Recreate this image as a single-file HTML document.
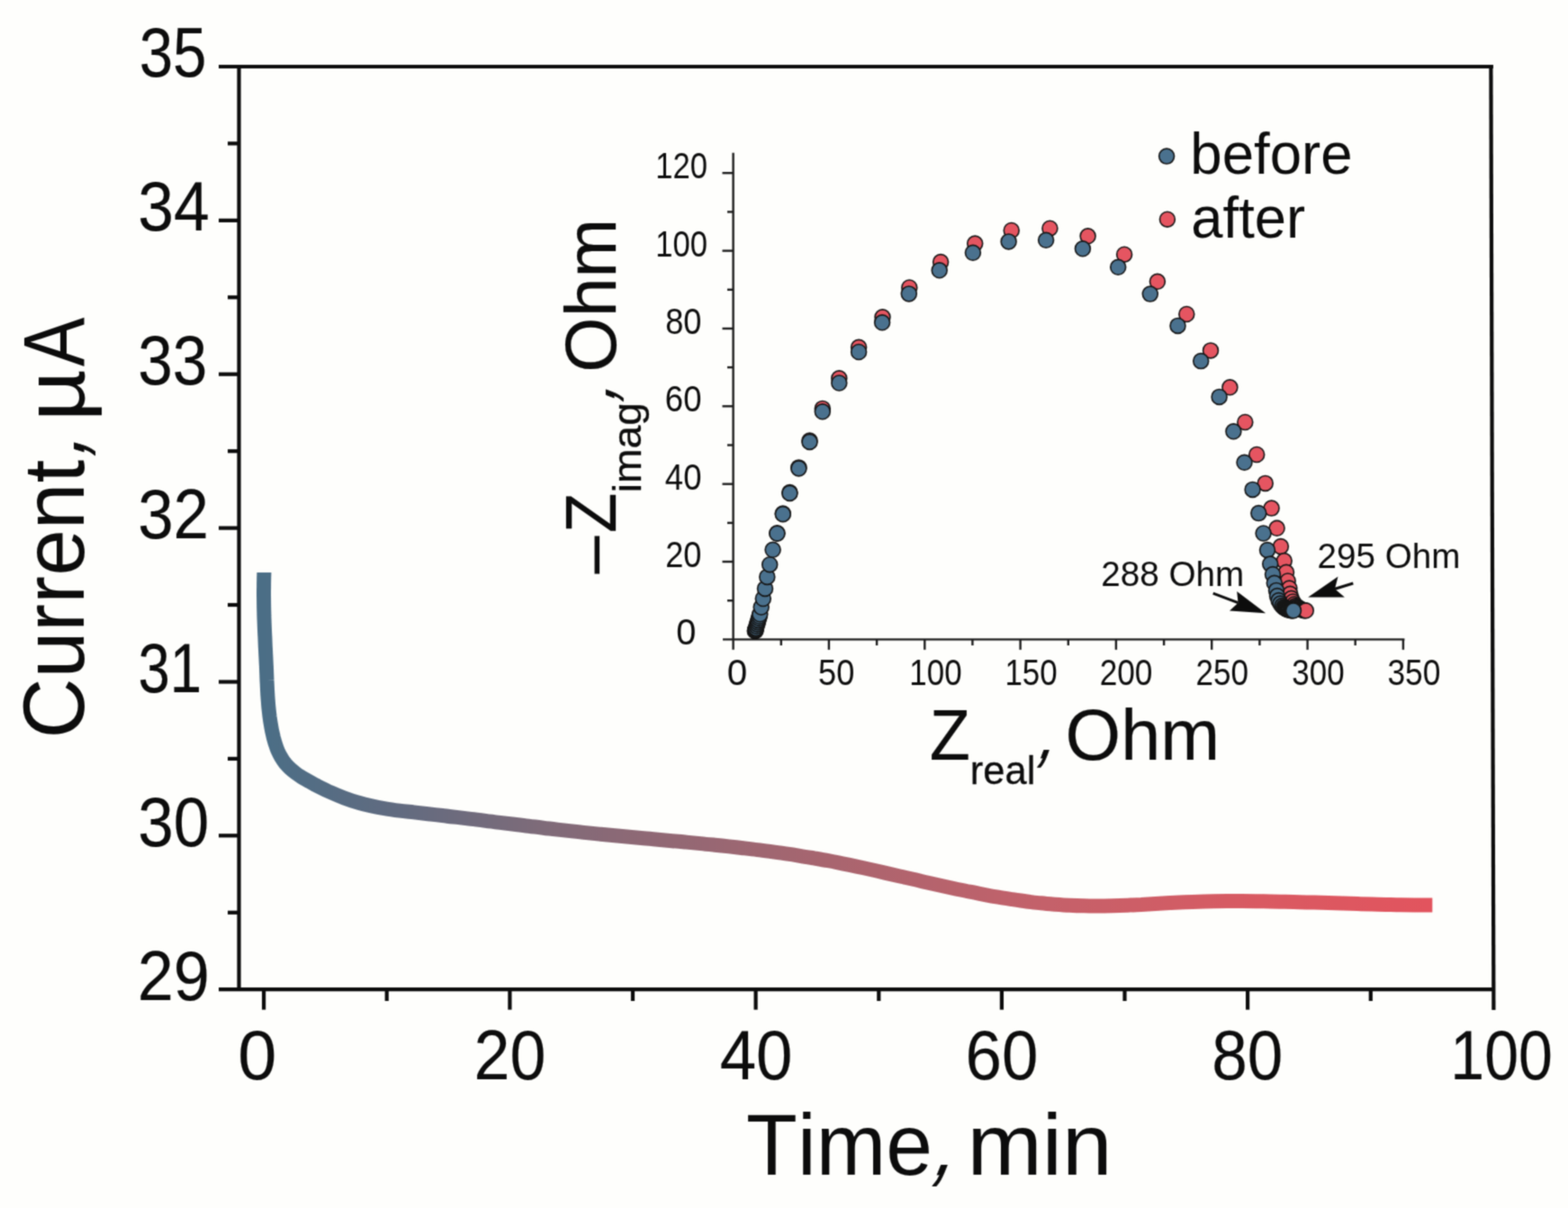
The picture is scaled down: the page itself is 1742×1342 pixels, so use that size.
<!DOCTYPE html>
<html lang="en">
<head>
<meta charset="utf-8">
<title>Current vs time with impedance inset</title>
<style>
html,body{margin:0;padding:0;background:#fefefc;}
body{width:1742px;height:1342px;overflow:hidden;}
svg{display:block;}
text{font-family:"Liberation Sans",sans-serif;font-kerning:none;}
</style>
</head>
<body>
<svg width="1742" height="1342" viewBox="0 0 1742 1342" role="img" aria-label="Current, µA / Time, min / –Zimag, Ohm / Zreal, Ohm">
<desc>Current, µA. Time, min. –Zimag, Ohm. Zreal, Ohm. before. after. 288 Ohm. 295 Ohm.</desc>
<defs>
<linearGradient id="cg" gradientUnits="userSpaceOnUse" x1="293" y1="0" x2="1591" y2="0">
<stop offset="0.0000" stop-color="rgb(75,110,134)"/>
<stop offset="0.1133" stop-color="rgb(97,107,128)"/>
<stop offset="0.2365" stop-color="rgb(126,107,121)"/>
<stop offset="0.2982" stop-color="rgb(138,105,118)"/>
<stop offset="0.4831" stop-color="rgb(168,101,111)"/>
<stop offset="0.6680" stop-color="rgb(196,97,106)"/>
<stop offset="0.8529" stop-color="rgb(217,90,98)"/>
<stop offset="1.0000" stop-color="rgb(226,84,94)"/>
</linearGradient>
<filter id="soft" color-interpolation-filters="sRGB" x="0" y="0" width="1742" height="1342" filterUnits="userSpaceOnUse"><feConvolveMatrix order="3" kernelMatrix="0.0400 0.1200 0.0400 0.1200 0.3600 0.1200 0.0400 0.1200 0.0400" divisor="1" edgeMode="duplicate" preserveAlpha="false"/></filter>
</defs>
<rect width="1742" height="1342" fill="#fefefc"/>
<g filter="url(#soft)">
<g stroke="#0c0c0c" stroke-width="4.2" fill="none" stroke-linecap="butt">
<path d="M243,74.0 H1659.0"/>
<path d="M243,1099.2 H1659.4"/>
<path d="M265.5,74.0 V1099.2"/>
<path d="M1656.4,71.9 L1659.4,1122"/>
<path d="M243,244.9 H265.5"/>
<path d="M243,415.7 H265.5"/>
<path d="M243,586.6 H265.5"/>
<path d="M243,757.5 H265.5"/>
<path d="M243,928.3 H265.5"/>
<path d="M253,159.4 H265.5"/>
<path d="M253,330.3 H265.5"/>
<path d="M253,501.2 H265.5"/>
<path d="M253,672.0 H265.5"/>
<path d="M253,842.9 H265.5"/>
<path d="M253,1013.8 H265.5"/>
<path d="M293.1,1099.2 V1121.7"/>
<path d="M566.4,1099.2 V1121.7"/>
<path d="M839.6,1099.2 V1121.7"/>
<path d="M1112.9,1099.2 V1121.7"/>
<path d="M1386.1,1099.2 V1121.7"/>
<path d="M429.7,1099.2 V1112"/>
<path d="M703.0,1099.2 V1112"/>
<path d="M976.3,1099.2 V1112"/>
<path d="M1249.5,1099.2 V1112"/>
<path d="M1522.8,1099.2 V1112"/>
</g>
<text transform="translate(154.64,85.40) scale(0.8744,1)" font-size="77" fill="#0c0c0c" stroke="#0c0c0c" stroke-width="0.15" stroke-linejoin="round">35</text>
<text transform="translate(153.18,256.27) scale(0.9284,1)" font-size="77" fill="#0c0c0c" stroke="#0c0c0c" stroke-width="0.15" stroke-linejoin="round">34</text>
<text transform="translate(153.26,427.13) scale(0.9000,1)" font-size="77" fill="#0c0c0c" stroke="#0c0c0c" stroke-width="0.15" stroke-linejoin="round">33</text>
<text transform="translate(153.20,598.00) scale(0.9208,1)" font-size="77" fill="#0c0c0c" stroke="#0c0c0c" stroke-width="0.15" stroke-linejoin="round">32</text>
<text transform="translate(153.48,768.87) scale(0.8245,1)" font-size="77" fill="#0c0c0c" stroke="#0c0c0c" stroke-width="0.15" stroke-linejoin="round">31</text>
<text transform="translate(153.19,939.73) scale(0.9234,1)" font-size="77" fill="#0c0c0c" stroke="#0c0c0c" stroke-width="0.15" stroke-linejoin="round">30</text>
<text transform="translate(152.78,1110.60) scale(0.9356,1)" font-size="77" fill="#0c0c0c" stroke="#0c0c0c" stroke-width="0.15" stroke-linejoin="round">29</text>
<text transform="translate(264.28,1198.80) scale(1.0052,1)" font-size="77" fill="#0c0c0c" stroke="#0c0c0c" stroke-width="0.15" stroke-linejoin="round">0</text>
<text transform="translate(526.49,1198.80) scale(0.9331,1)" font-size="77" fill="#0c0c0c" stroke="#0c0c0c" stroke-width="0.15" stroke-linejoin="round">20</text>
<text transform="translate(799.63,1198.80) scale(0.9435,1)" font-size="77" fill="#0c0c0c" stroke="#0c0c0c" stroke-width="0.15" stroke-linejoin="round">40</text>
<text transform="translate(1072.51,1198.80) scale(0.9437,1)" font-size="77" fill="#0c0c0c" stroke="#0c0c0c" stroke-width="0.15" stroke-linejoin="round">60</text>
<text transform="translate(1346.32,1198.80) scale(0.9219,1)" font-size="77" fill="#0c0c0c" stroke="#0c0c0c" stroke-width="0.15" stroke-linejoin="round">80</text>
<text transform="translate(1611.32,1198.80) scale(0.8838,1)" font-size="77" fill="#0c0c0c" stroke="#0c0c0c" stroke-width="0.15" stroke-linejoin="round">100</text>
<text transform="translate(829.11,1305.10) scale(0.9645,1)" font-size="96.5" fill="#0c0c0c">Time</text>
<text transform="translate(1034.39,1305.10) skewX(-22.14) scale(0.7400,1)" font-size="97.5" fill="#0c0c0c" stroke="#0c0c0c" stroke-width="1.1" stroke-linejoin="round">,</text>
<text transform="translate(1074.56,1305.10) scale(1.0356,1)" font-size="96.5" fill="#0c0c0c">min</text>
<text transform="translate(93.00,820.42) rotate(-90) scale(0.9625,1)" font-size="96.5" fill="#0c0c0c">Current</text>
<text transform="translate(93.00,508.57) rotate(-90) skewX(-16.58) scale(0.7400,1)" font-size="97.5" fill="#0c0c0c" stroke="#0c0c0c" stroke-width="1.1" stroke-linejoin="round">,</text>
<text transform="translate(93.00,467.92) rotate(-90) scale(1.0619,1)" font-size="94" fill="#0c0c0c">µ</text>
<text transform="translate(93.00,407.26) rotate(-90) scale(0.8458,1)" font-size="97.0" fill="#0c0c0c">A</text>
<path d="M293.4,636.1 C293.4,637.4 293.2,641.4 293.2,644.1 C293.1,646.8 293.1,649.4 293.1,652.1 C293.0,654.8 293.0,657.4 293.0,660.1 C293.0,662.8 293.1,665.4 293.1,668.1 C293.1,670.8 293.2,673.4 293.2,676.1 C293.3,678.8 293.4,681.4 293.4,684.1 C293.5,686.8 293.6,689.4 293.7,692.1 C293.8,694.8 293.9,697.4 294.0,700.1 C294.1,702.8 294.2,705.4 294.4,708.1 C294.5,710.8 294.6,713.4 294.7,716.1 C294.8,718.7 295.0,721.4 295.1,724.1 C295.2,726.7 295.4,729.4 295.5,732.1 C295.6,734.7 295.7,737.4 295.9,740.0 C296.0,742.7 296.1,745.4 296.2,748.0 C296.3,750.7 296.4,753.4 296.5,756.0 C296.7,758.7 296.8,761.4 296.9,764.0 C297.0,766.7 297.2,769.3 297.3,772.0 C297.5,774.7 297.7,777.3 297.9,780.0 C298.1,782.6 298.3,785.3 298.6,787.9 C298.9,790.6 299.2,793.2 299.5,795.9 C299.9,798.5 300.2,801.2 300.7,803.8 C301.1,806.4 301.6,809.1 302.1,811.7 C302.7,814.3 303.3,817.0 303.9,819.6 C304.6,822.2 305.3,824.8 306.2,827.4 C307.0,829.9 307.9,832.4 309.0,834.9 C310.1,837.3 311.3,839.7 312.7,841.9 C314.0,844.2 315.5,846.3 317.2,848.4 C318.9,850.4 320.7,852.3 322.6,854.0 C324.5,855.8 326.6,857.4 328.7,859.0 C330.8,860.6 333.1,862.0 335.3,863.4 C337.6,864.9 340.0,866.2 342.3,867.5 C344.7,868.8 347.6,870.4 349.4,871.4 C351.2,872.4 350.0,871.8 353.0,873.3 C356.0,874.8 362.6,878.1 367.5,880.3 C372.4,882.5 377.4,884.6 382.4,886.5 C387.4,888.4 392.4,890.1 397.5,891.5 C402.5,893.0 407.7,894.3 412.8,895.4 C417.9,896.6 423.1,897.5 428.3,898.3 C433.5,899.2 438.7,899.9 444.0,900.6 C449.2,901.3 454.5,901.8 459.7,902.4 C465.0,903.0 470.3,903.6 475.6,904.2 C480.9,904.8 486.2,905.4 491.5,906.0 C496.8,906.7 502.1,907.3 507.4,907.9 C512.7,908.6 518.0,909.2 523.3,909.9 C528.7,910.5 534.0,911.2 539.3,911.9 C544.6,912.5 550.0,913.2 555.3,913.9 C560.7,914.5 566.0,915.2 571.3,915.8 C576.7,916.5 582.0,917.2 587.3,917.8 C592.7,918.5 598.0,919.1 603.4,919.7 C608.7,920.4 614.0,921.0 619.4,921.6 C624.7,922.2 630.0,922.8 635.4,923.4 C640.7,924.0 646.0,924.6 651.3,925.1 C656.7,925.7 662.0,926.2 667.3,926.8 C672.6,927.3 677.9,927.8 683.2,928.3 C688.5,928.8 693.8,929.3 699.1,929.8 C704.4,930.3 709.7,930.8 715.0,931.3 C720.3,931.7 725.6,932.2 730.9,932.7 C736.1,933.2 741.4,933.7 746.7,934.2 C752.0,934.6 757.2,935.1 762.5,935.6 C767.8,936.1 773.1,936.6 778.3,937.1 C783.6,937.7 788.9,938.2 794.1,938.7 C799.4,939.3 804.6,939.8 809.9,940.4 C815.2,941.0 820.4,941.6 825.7,942.2 C830.9,942.8 836.2,943.4 841.4,944.1 C846.7,944.7 851.9,945.4 857.2,946.1 C862.4,946.8 867.7,947.6 872.9,948.4 C878.2,949.1 883.4,949.9 888.7,950.8 C893.9,951.6 899.1,952.5 904.4,953.4 C909.6,954.3 914.9,955.2 920.1,956.2 C925.4,957.2 930.6,958.2 935.8,959.3 C941.1,960.4 946.3,961.5 951.6,962.6 C956.8,963.7 962.1,964.9 967.3,966.0 C972.5,967.2 977.8,968.4 983.0,969.6 C988.3,970.8 993.5,972.0 998.7,973.2 C1004.0,974.4 1009.2,975.6 1014.5,976.8 C1019.7,978.1 1025.0,979.3 1030.2,980.5 C1035.5,981.7 1040.7,982.8 1046.0,984.0 C1051.2,985.2 1056.5,986.3 1061.7,987.5 C1067.0,988.6 1072.2,989.7 1077.5,990.7 C1082.7,991.8 1088.0,992.8 1093.3,993.8 C1098.5,994.8 1103.8,995.8 1109.0,996.7 C1114.3,997.6 1119.6,998.4 1124.8,999.2 C1130.1,1000.0 1135.4,1000.8 1140.7,1001.5 C1145.9,1002.1 1151.2,1002.8 1156.5,1003.3 C1161.8,1003.9 1167.1,1004.3 1172.3,1004.7 C1177.6,1005.1 1182.9,1005.5 1188.2,1005.7 C1193.5,1006.0 1198.8,1006.2 1204.1,1006.3 C1209.4,1006.5 1214.7,1006.5 1220.0,1006.5 C1225.3,1006.5 1230.6,1006.4 1235.9,1006.3 C1241.2,1006.1 1246.5,1005.9 1251.8,1005.7 C1257.2,1005.4 1262.5,1005.1 1267.8,1004.9 C1273.1,1004.6 1278.4,1004.2 1283.7,1003.9 C1289.1,1003.6 1294.4,1003.3 1299.7,1003.0 C1305.0,1002.7 1310.3,1002.5 1315.7,1002.2 C1321.0,1002.0 1326.3,1001.8 1331.6,1001.7 C1337.0,1001.5 1342.3,1001.4 1347.6,1001.3 C1353.0,1001.2 1358.3,1001.2 1363.6,1001.1 C1369.0,1001.1 1374.3,1001.1 1379.6,1001.1 C1385.0,1001.1 1390.3,1001.2 1395.6,1001.2 C1401.0,1001.3 1406.3,1001.4 1411.7,1001.5 C1417.0,1001.5 1422.3,1001.7 1427.7,1001.8 C1433.0,1001.9 1438.3,1002.0 1443.7,1002.2 C1449.0,1002.3 1454.4,1002.5 1459.7,1002.6 C1465.0,1002.8 1470.4,1002.9 1475.7,1003.1 C1481.1,1003.3 1486.4,1003.4 1491.7,1003.6 C1497.1,1003.8 1502.4,1003.9 1507.8,1004.1 C1513.1,1004.2 1518.4,1004.4 1523.8,1004.5 C1529.1,1004.7 1534.4,1004.8 1539.8,1004.9 C1545.1,1005.0 1550.4,1005.2 1555.8,1005.2 C1561.1,1005.3 1566.4,1005.4 1571.8,1005.5 C1577.1,1005.5 1584.5,1005.6 1587.8,1005.6 C1591.0,1005.6 1590.7,1005.6 1591.3,1005.6" fill="none" stroke="url(#cg)" stroke-width="16" stroke-linecap="butt" stroke-linejoin="round"/>
<g stroke="#1c1c1c" stroke-width="2.4" fill="none">
<path d="M814.6,169.8 V721.8"/>
<path d="M803.0,710.4 H1560.4"/>
<path d="M802.5,624.0 H814.6"/>
<path d="M802.5,537.7 H814.6"/>
<path d="M802.5,451.3 H814.6"/>
<path d="M802.5,365.0 H814.6"/>
<path d="M802.5,278.6 H814.6"/>
<path d="M802.5,192.2 H814.6"/>
<path d="M808,667.2 H814.6"/>
<path d="M808,580.9 H814.6"/>
<path d="M808,494.5 H814.6"/>
<path d="M808,408.1 H814.6"/>
<path d="M808,321.8 H814.6"/>
<path d="M808,235.4 H814.6"/>
<path d="M920.9,710.4 V721.8"/>
<path d="M1027.3,710.4 V721.8"/>
<path d="M1133.6,710.4 V721.8"/>
<path d="M1239.9,710.4 V721.8"/>
<path d="M1346.2,710.4 V721.8"/>
<path d="M1452.6,710.4 V721.8"/>
<path d="M1558.9,710.4 V721.8"/>
<path d="M867.8,710.4 V717"/>
<path d="M974.1,710.4 V717"/>
<path d="M1080.4,710.4 V717"/>
<path d="M1186.8,710.4 V717"/>
<path d="M1293.1,710.4 V717"/>
<path d="M1399.4,710.4 V717"/>
<path d="M1505.7,710.4 V717"/>
</g>
<text transform="translate(728.37,198.24) scale(0.8665,1)" font-size="39.9" fill="#0c0c0c">120</text>
<text transform="translate(728.37,284.60) scale(0.8665,1)" font-size="39.9" fill="#0c0c0c">100</text>
<text transform="translate(739.13,370.96) scale(0.9078,1)" font-size="39.9" fill="#0c0c0c">80</text>
<text transform="translate(738.85,457.32) scale(0.9143,1)" font-size="39.9" fill="#0c0c0c">60</text>
<text transform="translate(738.86,543.68) scale(0.9139,1)" font-size="39.9" fill="#0c0c0c">40</text>
<text transform="translate(739.18,630.04) scale(0.9065,1)" font-size="39.9" fill="#0c0c0c">20</text>
<text transform="translate(751.15,716.40) scale(0.9962,1)" font-size="39.9" fill="#0c0c0c">0</text>
<text transform="translate(807.72,760.90) scale(1.0119,1)" font-size="39.9" fill="#0c0c0c">0</text>
<text transform="translate(909.05,760.90) scale(0.9072,1)" font-size="39.9" fill="#0c0c0c">50</text>
<text transform="translate(1010.34,760.90) scale(0.8746,1)" font-size="39.9" fill="#0c0c0c">100</text>
<text transform="translate(1116.44,760.90) scale(0.8746,1)" font-size="39.9" fill="#0c0c0c">150</text>
<text transform="translate(1221.63,760.90) scale(0.8840,1)" font-size="39.9" fill="#0c0c0c">200</text>
<text transform="translate(1328.44,760.90) scale(0.8793,1)" font-size="39.9" fill="#0c0c0c">250</text>
<text transform="translate(1435.37,760.90) scale(0.8741,1)" font-size="39.9" fill="#0c0c0c">300</text>
<text transform="translate(1541.45,760.90) scale(0.8851,1)" font-size="39.9" fill="#0c0c0c">350</text>
<text transform="translate(1032.85,843.80) scale(0.9241,1)" font-size="80" fill="#0c0c0c" stroke="#0c0c0c" stroke-width="0.2" stroke-linejoin="round">Z</text>
<text transform="translate(1077.81,871.30) scale(0.9661,1)" font-size="45" fill="#0c0c0c" stroke="#0c0c0c" stroke-width="0.3" stroke-linejoin="round">real</text>
<text transform="translate(1151.09,841.80) skewX(-20.41) scale(0.7400,1)" font-size="80" fill="#0c0c0c" stroke="#0c0c0c" stroke-width="1.1" stroke-linejoin="round">,</text>
<text transform="translate(1183.55,843.80) scale(0.9897,1)" font-size="80" fill="#0c0c0c" stroke="#0c0c0c" stroke-width="0.2" stroke-linejoin="round">Ohm</text>
<text transform="translate(684.00,637.50) rotate(-90) scale(0.9426,1)" font-size="80" fill="#0c0c0c" stroke="#0c0c0c" stroke-width="0.2" stroke-linejoin="round">–</text>
<text transform="translate(684.00,591.91) rotate(-90) scale(0.9081,1)" font-size="80" fill="#0c0c0c" stroke="#0c0c0c" stroke-width="0.2" stroke-linejoin="round">Z</text>
<text transform="translate(711.90,547.29) rotate(-90) scale(1.0281,1)" font-size="45" fill="#0c0c0c" stroke="#0c0c0c" stroke-width="0.3" stroke-linejoin="round">imag</text>
<text transform="translate(682.00,447.16) rotate(-90) skewX(-20.67) scale(0.7400,1)" font-size="80" fill="#0c0c0c" stroke="#0c0c0c" stroke-width="1.1" stroke-linejoin="round">,</text>
<text transform="translate(684.00,413.63) rotate(-90) scale(0.9854,1)" font-size="80" fill="#0c0c0c" stroke="#0c0c0c" stroke-width="0.2" stroke-linejoin="round">Ohm</text>
<text transform="translate(1322.30,193.40) scale(0.9866,1)" font-size="64.5" fill="#0c0c0c">before</text>
<text transform="translate(1323.31,264.30) scale(0.9828,1)" font-size="64.5" fill="#0c0c0c">after</text>
<text transform="translate(1223.36,650.60) scale(0.9786,1)" font-size="39.5" fill="#0c0c0c">288 Ohm</text>
<text transform="translate(1463.56,630.80) scale(0.9773,1)" font-size="39.5" fill="#0c0c0c">295 Ohm</text>
<g stroke="#161616" stroke-width="1.6">
<circle cx="863.4" cy="592.2" r="8.45" fill="#e55561"/>
<circle cx="869.8" cy="570.6" r="8.45" fill="#e55561"/>
<circle cx="877.4" cy="547.1" r="8.45" fill="#e55561"/>
<circle cx="887.4" cy="519.4" r="8.45" fill="#e55561"/>
<circle cx="899.5" cy="489.6" r="8.45" fill="#e55561"/>
<circle cx="913.8" cy="453.9" r="8.45" fill="#e55561"/>
<circle cx="932.3" cy="420.3" r="8.45" fill="#e55561"/>
<circle cx="954.1" cy="385.8" r="8.45" fill="#e55561"/>
<circle cx="980.5" cy="352.3" r="8.45" fill="#e55561"/>
<circle cx="1010.3" cy="319.5" r="8.45" fill="#e55561"/>
<circle cx="1045.1" cy="291.1" r="8.45" fill="#e55561"/>
<circle cx="1083.2" cy="270.6" r="8.45" fill="#e55561"/>
<circle cx="1123.7" cy="256.0" r="8.45" fill="#e55561"/>
<circle cx="1166.4" cy="253.7" r="8.45" fill="#e55561"/>
<circle cx="1208.6" cy="262.3" r="8.45" fill="#e55561"/>
<circle cx="1249.1" cy="282.7" r="8.45" fill="#e55561"/>
<circle cx="1285.9" cy="312.8" r="8.45" fill="#e55561"/>
<circle cx="1318.3" cy="349.0" r="8.45" fill="#e55561"/>
<circle cx="1345.0" cy="389.4" r="8.45" fill="#e55561"/>
<circle cx="1366.4" cy="430.3" r="8.45" fill="#e55561"/>
<circle cx="1383.3" cy="469.0" r="8.45" fill="#e55561"/>
<circle cx="1396.2" cy="505.0" r="8.45" fill="#e55561"/>
<circle cx="1405.7" cy="536.9" r="8.45" fill="#e55561"/>
<circle cx="1412.6" cy="564.6" r="8.45" fill="#e55561"/>
<circle cx="1418.6" cy="586.8" r="8.45" fill="#e55561"/>
<circle cx="1422.9" cy="607.1" r="8.45" fill="#e55561"/>
<circle cx="1426.7" cy="623.1" r="8.45" fill="#e55561"/>
<circle cx="1429.0" cy="635.8" r="8.45" fill="#e55561"/>
<circle cx="1430.7" cy="645.5" r="8.45" fill="#e55561"/>
<circle cx="1432.4" cy="653.6" r="8.45" fill="#e55561"/>
<circle cx="1433.3" cy="659.8" r="8.45" fill="#e55561"/>
<circle cx="1434.7" cy="664.8" r="8.45" fill="#e55561"/>
<circle cx="1436.4" cy="668.5" r="8.45" fill="#e55561"/>
<circle cx="1438.1" cy="671.2" r="8.45" fill="#e55561"/>
<circle cx="1439.5" cy="672.9" r="8.45" fill="#e55561"/>
<circle cx="1440.6" cy="673.9" r="8.45" fill="#e55561"/>
<circle cx="1441.2" cy="674.5" r="8.45" fill="#e55561"/>
<circle cx="1442.0" cy="675.0" r="8.45" fill="#e55561"/>
<circle cx="1442.7" cy="675.6" r="8.45" fill="#e55561"/>
<circle cx="1443.5" cy="676.0" r="8.45" fill="#e55561"/>
<circle cx="1444.3" cy="676.5" r="8.45" fill="#e55561"/>
<circle cx="1445.1" cy="676.8" r="8.45" fill="#e55561"/>
<circle cx="1445.9" cy="677.2" r="8.45" fill="#e55561"/>
<circle cx="1446.7" cy="677.5" r="8.45" fill="#e55561"/>
<circle cx="1447.6" cy="677.8" r="8.45" fill="#e55561"/>
<circle cx="1448.5" cy="678.0" r="8.45" fill="#e55561"/>
<circle cx="1449.3" cy="678.2" r="8.45" fill="#e55561"/>
<circle cx="838.8" cy="700.9" r="8.45" fill="#1b1b1b"/>
<circle cx="839.4" cy="700.7" r="8.45" fill="#1b1b1b"/>
<circle cx="839.1" cy="700.4" r="8.45" fill="#4a718e"/>
<circle cx="839.3" cy="699.9" r="8.45" fill="#4a718e"/>
<circle cx="839.4" cy="699.4" r="8.45" fill="#4a718e"/>
<circle cx="839.5" cy="698.9" r="8.45" fill="#4a718e"/>
<circle cx="839.9" cy="697.8" r="8.45" fill="#4a718e"/>
<circle cx="840.5" cy="695.6" r="8.45" fill="#4a718e"/>
<circle cx="841.2" cy="693.4" r="8.45" fill="#4a718e"/>
<circle cx="841.8" cy="691.2" r="8.45" fill="#4a718e"/>
<circle cx="842.4" cy="688.9" r="8.45" fill="#4a718e"/>
<circle cx="843.1" cy="686.7" r="8.45" fill="#4a718e"/>
<circle cx="843.7" cy="684.5" r="8.45" fill="#4a718e"/>
<circle cx="844.3" cy="682.3" r="8.45" fill="#4a718e"/>
<circle cx="845.7" cy="674.5" r="8.45" fill="#4a718e"/>
<circle cx="847.8" cy="665.0" r="8.45" fill="#4a718e"/>
<circle cx="850.0" cy="653.9" r="8.45" fill="#4a718e"/>
<circle cx="852.3" cy="640.9" r="8.45" fill="#4a718e"/>
<circle cx="855.2" cy="627.2" r="8.45" fill="#4a718e"/>
<circle cx="858.6" cy="610.8" r="8.45" fill="#4a718e"/>
<circle cx="863.4" cy="592.7" r="8.45" fill="#4a718e"/>
<circle cx="869.8" cy="571.2" r="8.45" fill="#4a718e"/>
<circle cx="877.4" cy="547.9" r="8.45" fill="#4a718e"/>
<circle cx="887.4" cy="520.4" r="8.45" fill="#4a718e"/>
<circle cx="899.5" cy="490.9" r="8.45" fill="#4a718e"/>
<circle cx="913.8" cy="457.3" r="8.45" fill="#4a718e"/>
<circle cx="932.3" cy="425.5" r="8.45" fill="#4a718e"/>
<circle cx="954.1" cy="391.0" r="8.45" fill="#4a718e"/>
<circle cx="980.1" cy="358.3" r="8.45" fill="#4a718e"/>
<circle cx="1009.8" cy="326.4" r="8.45" fill="#4a718e"/>
<circle cx="1043.7" cy="300.3" r="8.45" fill="#4a718e"/>
<circle cx="1080.9" cy="280.8" r="8.45" fill="#4a718e"/>
<circle cx="1120.6" cy="268.4" r="8.45" fill="#4a718e"/>
<circle cx="1162.1" cy="266.8" r="8.45" fill="#4a718e"/>
<circle cx="1202.9" cy="276.3" r="8.45" fill="#4a718e"/>
<circle cx="1242.2" cy="296.8" r="8.45" fill="#4a718e"/>
<circle cx="1277.8" cy="326.6" r="8.45" fill="#4a718e"/>
<circle cx="1308.5" cy="361.9" r="8.45" fill="#4a718e"/>
<circle cx="1334.2" cy="401.1" r="8.45" fill="#4a718e"/>
<circle cx="1354.6" cy="440.9" r="8.45" fill="#4a718e"/>
<circle cx="1370.4" cy="479.3" r="8.45" fill="#4a718e"/>
<circle cx="1382.5" cy="513.8" r="8.45" fill="#4a718e"/>
<circle cx="1391.6" cy="543.9" r="8.45" fill="#4a718e"/>
<circle cx="1398.3" cy="570.1" r="8.45" fill="#4a718e"/>
<circle cx="1403.6" cy="592.5" r="8.45" fill="#4a718e"/>
<circle cx="1408.0" cy="611.1" r="8.45" fill="#4a718e"/>
<circle cx="1411.2" cy="626.6" r="8.45" fill="#4a718e"/>
<circle cx="1414.0" cy="638.1" r="8.45" fill="#4a718e"/>
<circle cx="1415.8" cy="647.8" r="8.45" fill="#4a718e"/>
<circle cx="1418.0" cy="655.9" r="8.45" fill="#4a718e"/>
<circle cx="1419.0" cy="662.1" r="8.45" fill="#4a718e"/>
<circle cx="1420.6" cy="667.1" r="8.45" fill="#4a718e"/>
<circle cx="1422.5" cy="670.6" r="8.45" fill="#4a718e"/>
<circle cx="1424.5" cy="673.1" r="8.45" fill="#4a718e"/>
<circle cx="1426.1" cy="674.6" r="8.45" fill="#4a718e"/>
<circle cx="1427.3" cy="675.4" r="8.45" fill="#4a718e"/>
<circle cx="1428.1" cy="675.9" r="8.45" fill="#4a718e"/>
<circle cx="1428.9" cy="676.3" r="8.45" fill="#4a718e"/>
<circle cx="1429.7" cy="676.7" r="8.45" fill="#4a718e"/>
<circle cx="1430.5" cy="677.1" r="8.45" fill="#4a718e"/>
<circle cx="1431.4" cy="677.4" r="8.45" fill="#4a718e"/>
<circle cx="1432.2" cy="677.6" r="8.45" fill="#4a718e"/>
<circle cx="1433.1" cy="677.8" r="8.45" fill="#4a718e"/>
<circle cx="1434.0" cy="678.0" r="8.45" fill="#4a718e"/>
<circle cx="1434.9" cy="678.2" r="8.45" fill="#4a718e"/>
<circle cx="1435.8" cy="678.3" r="8.45" fill="#4a718e"/>
<circle cx="1450.8" cy="678.3" r="8.45" fill="#e55561"/>
<circle cx="1437.0" cy="678.3" r="8.45" fill="#4a718e"/>
<circle cx="1296.1" cy="173.6" r="8.45" fill="#4a718e"/>
<circle cx="1296.9" cy="243.7" r="8.45" fill="#e55561"/>
</g>
<path d="M1347.7,659.1 L1375.5,669.7" stroke="#0c0c0c" stroke-width="3" fill="none"/>
<path d="M1406.2,681.3 L1374.2,657.1 L1375.5,669.7 L1366.0,678.4 Z" fill="#0c0c0c"/>
<path d="M1503.3,648.0 L1483.0,654.3" stroke="#0c0c0c" stroke-width="3" fill="none"/>
<path d="M1453.2,663.6 L1486.5,640.6 L1483.0,654.3 L1493.9,663.6 Z" fill="#0c0c0c"/>
</g>
</svg>
</body>
</html>
